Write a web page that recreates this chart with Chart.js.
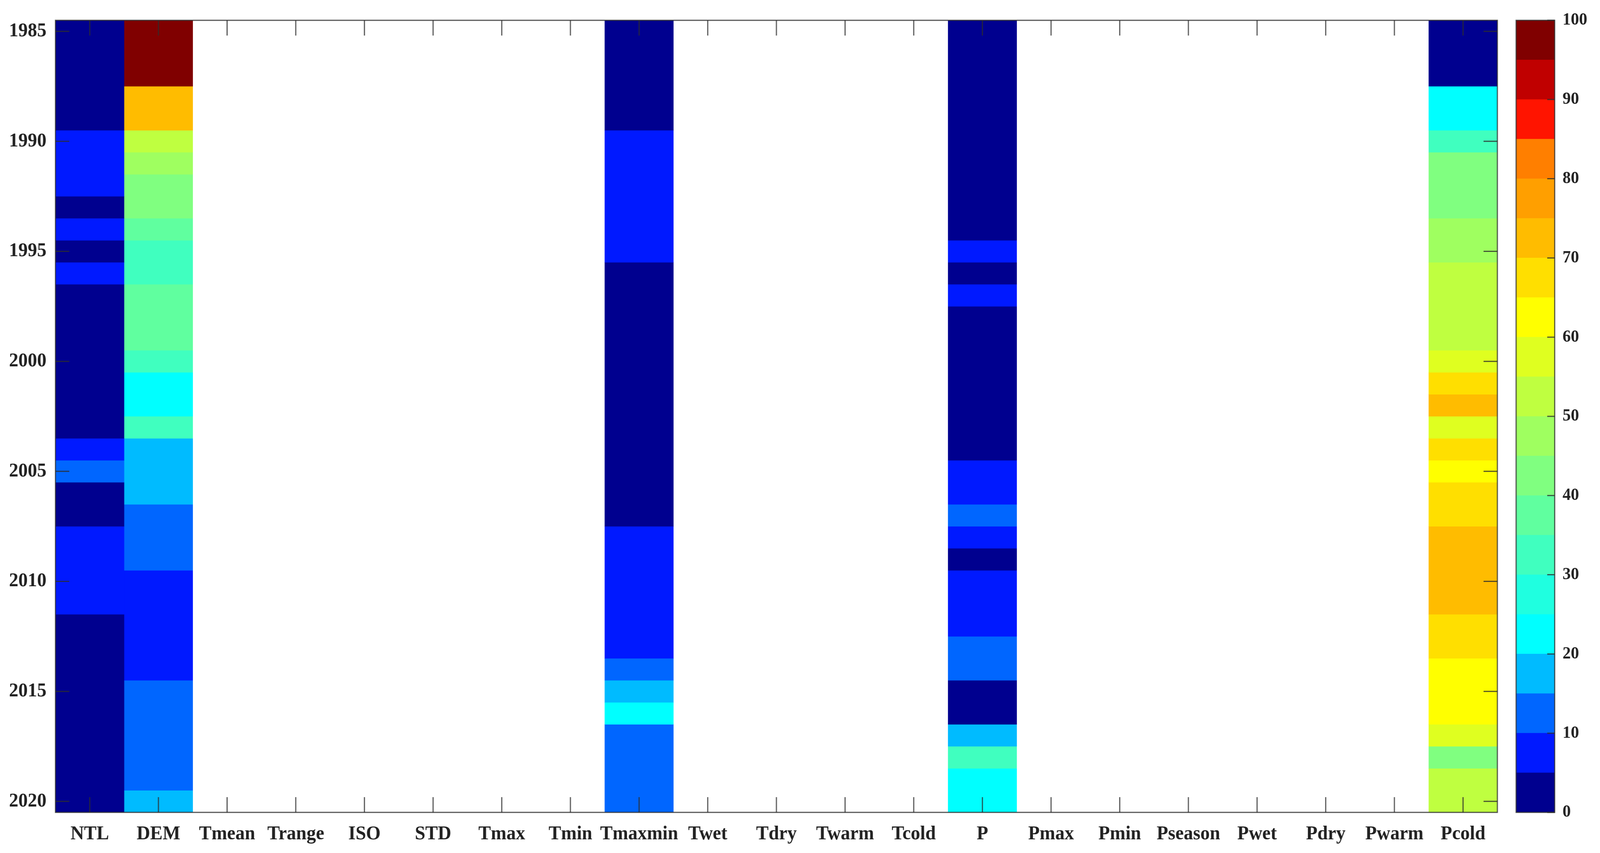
<!DOCTYPE html>
<html>
<head>
<meta charset="utf-8">
<title>Heat map</title>
<script src="https://cdn.jsdelivr.net/npm/chart.js@4"></script>
<style>
  html, body { margin: 0; background: #fff; overflow: hidden; }
  canvas { position: absolute; left: 0; top: 0; }
</style>
</head>
<body>
<canvas id="main" width="4272" height="2184"></canvas>
<canvas id="bar" width="4272" height="2184"></canvas>
<script>
const years = [];
for (let y = 1985; y <= 2020; y++) years.push(y);
const yearTicks = [1985, 1990, 1995, 2000, 2005, 2010, 2015, 2020];
const variables = ["NTL", "DEM", "Tmean", "Trange", "ISO", "STD", "Tmax", "Tmin", "Tmaxmin", "Twet", "Tdry",
                   "Twarm", "Tcold", "P", "Pmax", "Pmin", "Pseason", "Pwet", "Pdry", "Pwarm", "Pcold"];

// one value per year, 1985 -> 2020
const ntl = [2,2,2,2,2, 7,7,7, 2, 7, 2, 7, 2,2,2,2,2,2,2, 7, 12, 2,2, 7,7,7,7, 2,2,2,2,2,2,2,2,2];
const dem = [97,97,97, 72,72, 52, 47, 42,42, 37, 32,32, 37,37,37, 32, 22,22, 32, 17,17,17, 12,12,12, 7,7,7,7,7, 12,12,12,12,12, 17];
const tmaxmin = [2,2,2,2,2, 7,7,7,7,7,7, 2,2,2,2,2,2,2,2,2,2,2,2, 7,7,7,7,7,7, 12, 17, 22, 12,12,12,12];
const precip = [2,2,2,2,2,2,2,2,2,2, 7, 2, 7, 2,2,2,2,2,2,2, 7,7, 12, 7, 2, 7,7,7, 12,12, 2,2, 17, 32, 22,22];
const pcold = [2,2,2, 22,22, 32, 42,42,42, 47,47, 52,52,52,52, 57, 67, 72, 57, 67, 62, 67,67, 72,72,72,72, 67,67, 62,62,62, 57, 42, 52,52];
const columns = { NTL: ntl, DEM: dem, Tmaxmin: tmaxmin, P: precip, Pcold: pcold };

const barTicks = [0, 10, 20, 30, 40, 50, 60, 70, 80, 90, 100];
const levels = ["#00008f", "#0019ff", "#0066ff", "#00bbff", "#00ffff", "#1fffe0", "#40ffbf", "#60ff9f", "#80ff80", "#9fff60",
                "#bfff40", "#dfff20", "#ffff00", "#ffdf00", "#ffbc00", "#ff9f00", "#ff7f00", "#ff1400", "#c00000", "#800000"];

const FONT = { family: '"Liberation Serif"', weight: "bold", size: 50 };
const BAR_FONT = { family: '"Liberation Serif"', weight: "bold", size: 44 };
const TEXT = "#222";
const LINE = "rgba(45,45,45,.8)";

// plot box positions in the 4272x2184 drawing
const LEFT = 148, RIGHT = 3998, TOP = 52, BOTTOM = 2080;
const BAR_LEFT = 4048, BAR_RIGHT = 4151;

// the window can come up narrower than the drawing, so fit the canvases to it
for (const c of document.querySelectorAll("canvas")) {
  c.style.width = window.innerWidth + "px";
  c.style.height = window.innerHeight + "px";
}

const colorOf = (v) => levels[Math.min(levels.length - 1, Math.floor(v / 5))];

// merge equal neighbours per column so no seams show inside a band
function buildDatasets() {
  const sets = [];
  for (const name in columns) {
    const vals = columns[name];
    let start = 0;
    for (let i = 1; i <= vals.length; i++) {
      if (i < vals.length && vals[i] === vals[start]) continue;
      sets.push({
        data: variables.map(v => v === name ? [years[start] - 0.5, years[i - 1] + 0.5] : null),
        backgroundColor: colorOf(vals[start]),
      });
      start = i;
    }
  }
  return sets;
}

const axesBox = {
  id: "axesBox",
  afterDatasetsDraw(chart) {
    const { ctx, chartArea: a, scales: { x, y } } = chart;
    ctx.save();
    ctx.strokeStyle = LINE;
    ctx.lineWidth = 3;
    ctx.strokeRect(a.left, a.top, a.right - a.left, a.bottom - a.top);
    ctx.beginPath();
    variables.forEach((v, i) => {
      const px = x.getPixelForValue(i);
      ctx.moveTo(px, a.top); ctx.lineTo(px, a.top + 39);
      ctx.moveTo(px, a.bottom); ctx.lineTo(px, a.bottom - 39);
    });
    yearTicks.forEach(t => {
      const py = y.getPixelForValue(t);
      ctx.moveTo(a.left, py); ctx.lineTo(a.left + 37, py);
      ctx.moveTo(a.right, py); ctx.lineTo(a.right - 37, py);
    });
    ctx.stroke();
    ctx.restore();
  },
};

new Chart(document.getElementById("main"), {
  type: "bar",
  data: { labels: variables, datasets: buildDatasets() },
  plugins: [axesBox],
  options: {
    responsive: false,
    animation: false,
    devicePixelRatio: 1,
    layout: { padding: { top: TOP, right: 4272 - RIGHT, left: 0, bottom: 0 } },
    plugins: { legend: { display: false }, tooltip: { enabled: false } },
    datasets: { bar: { grouped: false, barPercentage: 1, categoryPercentage: 1, borderWidth: 0 } },
    scales: {
      x: {
        grid: { display: false },
        border: { display: false },
        ticks: { font: FONT, color: TEXT, padding: 18, autoSkip: false, maxRotation: 0 },
        afterFit(s) { s.height = 2184 - BOTTOM; },
      },
      y: {
        reverse: true,
        min: 1984.5,
        max: 2020.5,
        grid: { display: false },
        border: { display: false },
        afterBuildTicks(s) { s.ticks = yearTicks.map(t => ({ value: t })); },
        ticks: { font: FONT, color: TEXT, padding: 16, callback: v => String(v) },
        afterFit(s) { s.width = LEFT; },
      },
    },
  },
});

// colour bar
const barBox = {
  id: "barBox",
  afterDatasetsDraw(chart) {
    const { ctx, chartArea: a, scales: { y } } = chart;
    ctx.save();
    ctx.strokeStyle = LINE;
    ctx.lineWidth = 3;
    ctx.strokeRect(a.left, a.top, a.right - a.left, a.bottom - a.top);
    ctx.beginPath();
    barTicks.forEach(t => {
      const py = y.getPixelForValue(t);
      ctx.moveTo(a.right, py); ctx.lineTo(a.right - 20, py);
    });
    ctx.stroke();
    ctx.restore();
  },
};

new Chart(document.getElementById("bar"), {
  type: "bar",
  data: {
    labels: [""],
    datasets: levels.map((c, i) => ({ data: [[i * 5, (i + 1) * 5]], backgroundColor: c })),
  },
  plugins: [barBox],
  options: {
    responsive: false,
    animation: false,
    devicePixelRatio: 1,
    layout: { padding: { top: TOP, left: BAR_LEFT, right: 0, bottom: 2184 - BOTTOM } },
    plugins: { legend: { display: false }, tooltip: { enabled: false } },
    datasets: { bar: { grouped: false, barPercentage: 1, categoryPercentage: 1, borderWidth: 0 } },
    scales: {
      x: { display: false },
      y: {
        position: "right",
        min: 0,
        max: 100,
        grid: { display: false },
        border: { display: false },
        afterBuildTicks(s) { s.ticks = barTicks.map(t => ({ value: t })); },
        ticks: { font: BAR_FONT, color: TEXT, padding: 13 },
        afterFit(s) { s.width = 4272 - BAR_RIGHT; },
      },
    },
  },
});
</script>
</body>
</html>
